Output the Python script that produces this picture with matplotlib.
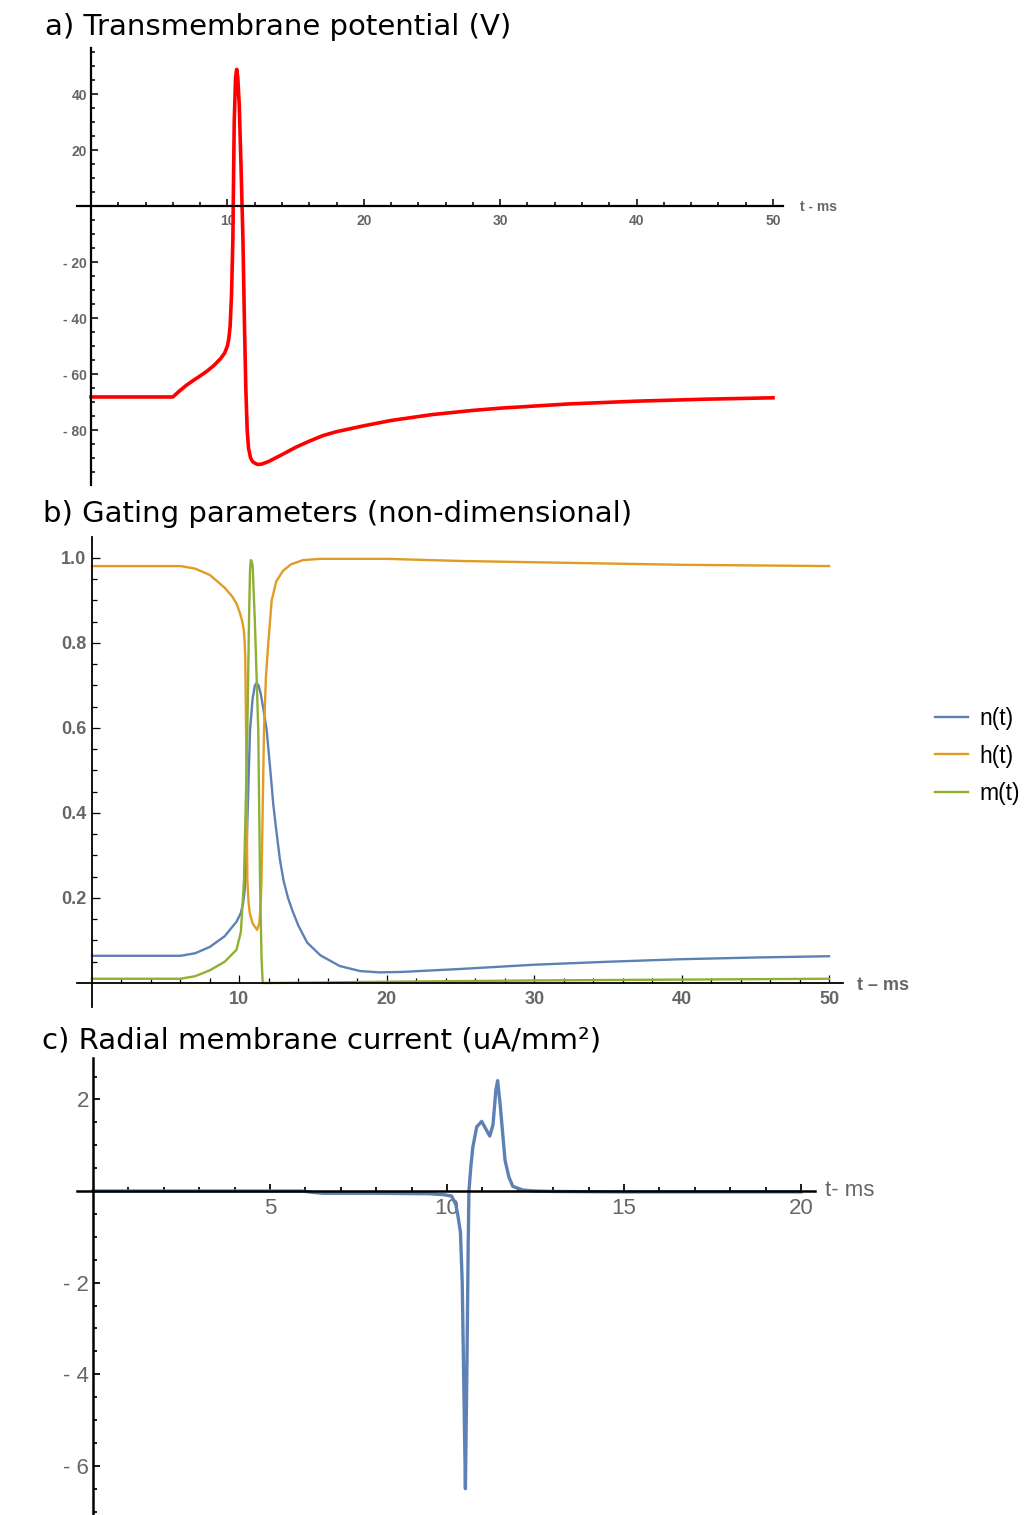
import numpy as np
import matplotlib
matplotlib.use('Agg')
import matplotlib.pyplot as plt
from matplotlib.ticker import FixedLocator, FixedFormatter

# 数据：a) 膜电位 (t 为 ms, V 为 mV)
t_v = [0, 6.0, 6.5, 7, 7.5, 8, 8.5, 9, 9.5, 9.8, 10.0, 10.1, 10.2, 10.3, 10.4,
       10.5, 10.6, 10.68, 10.76, 10.87, 11.0, 11.14, 11.25, 11.35, 11.45, 11.55,
       11.7, 11.85, 12.0, 12.2, 12.5, 13, 14, 15, 16, 17, 18, 20, 22, 25, 28,
       30, 35, 40, 45, 50]
v = [-68.2, -68.2, -66, -64, -62.3, -60.7, -59, -57, -54.5, -52.5, -50, -47.5,
     -43, -32, -12, 30, 46, 48.8, 46, 36, 14, -12, -42, -65, -80, -86.5, -90,
     -91.3, -91.8, -92.3, -92.2, -91.3, -88.8, -86.2, -84, -82, -80.6, -78.5,
     -76.6, -74.5, -73, -72.2, -70.7, -69.7, -69, -68.5]

# b) 门控变量
t_n = [0, 6, 7, 8, 9, 9.8, 10.1, 10.25, 10.35, 10.45, 10.6, 10.72, 10.9, 11.05,
       11.17, 11.3, 11.45, 11.6, 11.85, 12.1, 12.3, 12.5, 12.75, 13.0, 13.3,
       13.6, 14.0, 14.6, 15.5, 16.8, 18.2, 19.5, 21, 25, 30, 35, 40, 45, 50]
n_vals = [0.064, 0.064, 0.07, 0.085, 0.11, 0.144, 0.165, 0.188, 0.215, 0.27,
          0.45, 0.595, 0.67, 0.70, 0.706, 0.70, 0.68, 0.65, 0.595, 0.50, 0.42,
          0.36, 0.29, 0.24, 0.20, 0.17, 0.135, 0.095, 0.065, 0.04, 0.028, 0.025,
          0.026, 0.033, 0.043, 0.050, 0.056, 0.060, 0.063]

t_h = [0, 6, 7, 8, 9, 9.5, 9.8, 10.04, 10.2, 10.3, 10.36, 10.4, 10.45, 10.5,
       10.54, 10.62, 10.7, 10.9, 11.2, 11.35, 11.45, 11.5, 11.6, 11.67, 11.8,
       11.96, 12.19, 12.5, 12.96, 13.5, 14.3, 15.5, 20, 25, 30, 40, 50]
h_vals = [0.981, 0.981, 0.975, 0.96, 0.93, 0.91, 0.893, 0.87, 0.85, 0.83, 0.80,
          0.76, 0.6, 0.4, 0.242, 0.19, 0.165, 0.14, 0.125, 0.14, 0.19, 0.242,
          0.45, 0.595, 0.72, 0.8, 0.9, 0.945, 0.97, 0.985, 0.995, 0.998, 0.998,
          0.993, 0.99, 0.984, 0.981]

t_m = [0, 6, 7, 8, 9, 9.8, 10.1, 10.31, 10.45, 10.54, 10.65, 10.72, 10.77,
       10.83, 10.9, 11.05, 11.28, 11.4, 11.5, 11.58, 12, 15, 20, 30, 40, 50]
m_vals = [0.01, 0.01, 0.016, 0.03, 0.05, 0.078, 0.12, 0.242, 0.45, 0.595, 0.85,
          0.97, 0.995, 0.993, 0.98, 0.85, 0.595, 0.242, 0.06, 0.0, 0.0, 0.001,
          0.003, 0.006, 0.008, 0.01]

# c) 径向膜电流
t_i = [0, 5.9, 6.2, 6.5, 8, 9.5, 9.9, 10.13, 10.25, 10.3, 10.38, 10.43, 10.47,
       10.52, 10.56, 10.6, 10.62, 10.67, 10.73, 10.84, 10.98, 11.1, 11.21, 11.3,
       11.38, 11.43, 11.5, 11.64, 11.75, 11.86, 12.15, 12.5, 13, 15, 20]
i_vals = [0, 0, -0.03, -0.05, -0.05, -0.06, -0.08, -0.11, -0.3, -0.5, -0.9,
          -2.0, -4.0, -6.5, -4.0, -1.07, 0, 0.5, 0.96, 1.4, 1.52, 1.35, 1.2,
          1.45, 2.2, 2.41, 1.9, 0.67, 0.3, 0.1, 0.02, 0.0, -0.01, -0.02, -0.02]

W, H = 1030, 1515
fig = plt.figure(figsize=(W / 100, H / 100), dpi=100)
GRAY = '#666666'


def px_axes(l, t, r, b):
    return fig.add_axes([l / W, 1 - b / H, (r - l) / W, (b - t) / H])


def math_axes(ax, x0, sx, y0, sy, box, xmaj, xmin, ymaj, ymin, xlab, ylab,
              fsize, bold, lw, pad_x, pad_y, tlen):
    l, t, r, b = box
    ax.set_xlim((l - x0) / sx, (r - x0) / sx)
    ax.set_ylim((y0 - b) / sy, (y0 - t) / sy)
    for s in ['top', 'right']:
        ax.spines[s].set_visible(False)
    for s in ['left', 'bottom']:
        ax.spines[s].set_position(('data', 0))
        ax.spines[s].set_linewidth(lw)
    ax.patch.set_visible(False)
    ax.xaxis.set_major_locator(FixedLocator(xmaj))
    ax.xaxis.set_major_formatter(FixedFormatter(xlab))
    ax.xaxis.set_minor_locator(FixedLocator(xmin))
    ax.yaxis.set_major_locator(FixedLocator(ymaj))
    ax.yaxis.set_major_formatter(FixedFormatter(ylab))
    ax.yaxis.set_minor_locator(FixedLocator(ymin))
    weight = 'bold' if bold else 'normal'
    ax.tick_params(which='both', direction='in', width=lw * 0.7, color='black')
    ax.tick_params(which='major', length=tlen)
    ax.tick_params(which='minor', length=tlen * 0.6)
    ax.tick_params(axis='x', pad=pad_x, labelsize=fsize, labelcolor=GRAY)
    ax.tick_params(axis='y', pad=pad_y, labelsize=fsize, labelcolor=GRAY)
    for lab in ax.get_xticklabels() + ax.get_yticklabels():
        lab.set_fontweight(weight)
        lab.set_family(['Liberation Sans', 'DejaVu Sans'])


title_kw = dict(fontsize=21, family='DejaVu Sans', va='center', ha='left')

# ---- a) ----
ax1 = px_axes(77, 48, 783, 485)
math_axes(ax1, 91, 13.64, 206, 2.8, (77, 48, 783, 485),
          [10, 20, 30, 40, 50], [t for t in range(2, 51, 2) if t % 10],
          [-80, -60, -40, -20, 20, 40],
          [y for y in range(-95, 56, 5) if y % 20 and y != 0],
          ['10', '20', '30', '40', '50'],
          ['- 80', '- 60', '- 40', '- 20', '20', '40'],
          10, True, 1.6, 6, 3, 5)
ax1.plot(t_v, v, color='#FF0000', lw=2.6, solid_joinstyle='round')
fig.text(45 / W, 1 - 27 / H, 'a) Transmembrane potential (V)', **title_kw)
fig.text(800 / W, 1 - 207 / H, 't - ms', fontsize=10, fontweight='bold',
         color=GRAY, family='Liberation Sans', va='center')

# ---- b) ----
ax2 = px_axes(77, 537, 843, 1007)
math_axes(ax2, 92, 14.74, 983, 425, (77, 537, 843, 1007),
          [10, 20, 30, 40, 50], [t for t in range(2, 51, 2) if t % 10],
          [0.2, 0.4, 0.6, 0.8, 1.0],
          [0.05, 0.1, 0.15, 0.25, 0.3, 0.35, 0.45, 0.5, 0.55, 0.65, 0.7, 0.75,
           0.85, 0.9, 0.95, 1.05],
          ['10', '20', '30', '40', '50'],
          ['0.2', '0.4', '0.6', '0.8', '1.0'],
          13, True, 1.3, 6, 4, 6)
l_n, = ax2.plot(t_n, n_vals, color='#5E81B5', lw=1.7)
l_h, = ax2.plot(t_h, h_vals, color='#E19C24', lw=1.7)
l_m, = ax2.plot(t_m, m_vals, color='#8FB032', lw=1.7)
fig.text(43 / W, 1 - 514 / H, 'b) Gating parameters (non-dimensional)', **title_kw)
fig.text(857 / W, 1 - 985 / H, 't – ms', fontsize=13, fontweight='bold',
         color=GRAY, family='Liberation Sans', va='center')
fig.legend([l_n, l_h, l_m], ['n(t)', 'h(t)', 'm(t)'], loc='center left',
           bbox_to_anchor=(914 / W, 1 - 756 / H), frameon=False,
           prop={'family': 'Liberation Sans', 'size': 16.5},
           handlelength=1.45, handletextpad=0.5, labelspacing=0.62)

# ---- c) ----
ax3 = px_axes(77, 1058, 815, 1514)
math_axes(ax3, 93, 35.4, 1191, 45.8, (77, 1058, 815, 1514),
          [5, 10, 15, 20], [t for t in range(1, 21) if t % 5],
          [-6, -4, -2, 2],
          [y / 2 for y in range(-14, 6) if y % 4 and y != 0],
          ['5', '10', '15', '20'],
          ['- 6', '- 4', '- 2', '2'],
          16, False, 1.8, 5, 3, 5)
ax3.plot(t_i, i_vals, color='#5E81B5', lw=2.4, solid_joinstyle='round')
fig.text(42 / W, 1 - 1040 / H, 'c) Radial membrane current (uA/mm²)', **title_kw)
fig.text(825 / W, 1 - 1191 / H, 't- ms', fontsize=16, color=GRAY,
         family='Liberation Sans', va='center')

fig.savefig('out.png', dpi=100)
